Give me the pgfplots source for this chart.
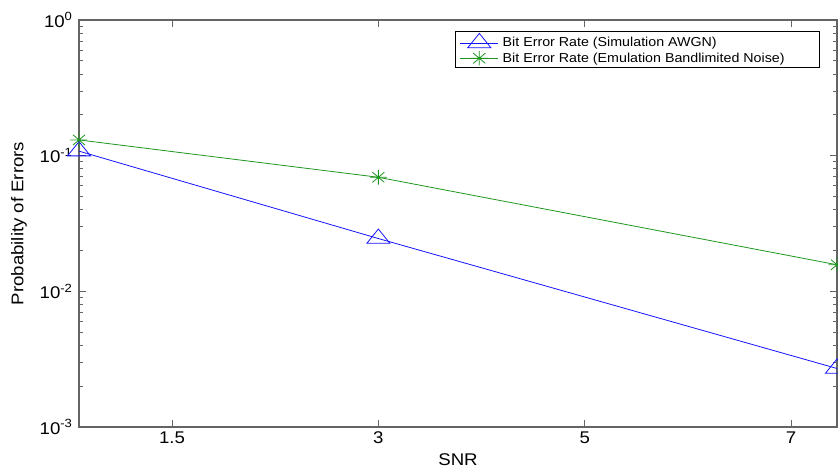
\documentclass[border=0pt]{standalone}
\usepackage{fontspec}
\setmainfont{Liberation Sans}[FakeStretch=1.1]
\usepackage{pgfplots}
\pgfplotsset{compat=1.18}
\definecolor{mblue}{RGB}{20,20,255}
\definecolor{mgreen}{RGB}{30,150,30}
\definecolor{axgray}{RGB}{100,100,100}

% MATLAB-style '*' marker: four strokes through the centre
\pgfdeclareplotmark{mstar}{%
  \pgfpathmoveto{\pgfqpoint{-\pgfplotmarksize}{0pt}}%
  \pgfpathlineto{\pgfqpoint{\pgfplotmarksize}{0pt}}%
  \pgfpathmoveto{\pgfqpoint{0pt}{-\pgfplotmarksize}}%
  \pgfpathlineto{\pgfqpoint{0pt}{\pgfplotmarksize}}%
  \pgfpathmoveto{\pgfqpoint{-0.707\pgfplotmarksize}{-0.707\pgfplotmarksize}}%
  \pgfpathlineto{\pgfqpoint{0.707\pgfplotmarksize}{0.707\pgfplotmarksize}}%
  \pgfpathmoveto{\pgfqpoint{-0.707\pgfplotmarksize}{0.707\pgfplotmarksize}}%
  \pgfpathlineto{\pgfqpoint{0.707\pgfplotmarksize}{-0.707\pgfplotmarksize}}%
  \pgfusepathqstroke}

\begin{document}
\begin{tikzpicture}
\begin{semilogyaxis}[
    scale only axis,
    width=758bp, height=407bp,
    xmin=0.549, xmax=4.223,
    ymin=1e-3, ymax=1,
    xtick={1,2,3,4},
    xticklabels={1.5,3,5,7},
    ytick={1e-3,1e-2,1e-1,1},
    yticklabels={10\textsuperscript{-3},10\textsuperscript{-2},10\textsuperscript{-1},10\textsuperscript{0}},
    tick align=inside,
    major tick length=7bp,
    minor tick length=4bp,
    axis line style={axgray, line width=1.2bp},
    every tick/.style={axgray, line width=0.8bp},
    ticklabel style={font=\fontsize{17}{18}\selectfont},
    xticklabel style={yshift=-1bp},
    yticklabel style={xshift=-3bp},
    xlabel={SNR},
    ylabel={Probability of Errors},
    label style={font=\fontsize{17}{19}\selectfont},
    xlabel style={at={(axis description cs:0.5,0)}, anchor=center, yshift=-33bp},
    ylabel style={at={(axis description cs:-0.0792,0.5)}, anchor=center},
    clip=false,
    legend cell align=left,
    legend style={at={(axis description cs:1,1)}, anchor=north east,
        xshift=-17bp, yshift=-11bp,
        font=\fontsize{13}{14}\selectfont,
        draw=black, line width=0.8bp,
        inner xsep=5bp, inner ysep=2bp, row sep=0.5bp,
        nodes={inner xsep=4bp}},
    legend image code/.code={%
        \draw[mark repeat=2,mark phase=2] plot coordinates {(0bp,0bp)(19bp,0bp)(38bp,0bp)};},
]
\addplot[mblue, line width=0.8bp, mark=triangle,
    mark options={solid, mark size=9.5bp, xscale=1.4}] coordinates {
    (0.549,0.108)
    (2,0.0245)
    (4.223,0.0027)
};
\addlegendentry{Bit Error Rate (Simulation AWGN)}
\addplot[mgreen, line width=0.8bp, mark=mstar,
    mark options={solid, mark size=8.5bp, yscale=0.85}] coordinates {
    (0.549,0.1306)
    (2,0.0693)
    (4.223,0.0157)
};
\addlegendentry{Bit Error Rate (Emulation Bandlimited Noise)\hspace*{26bp}}
\end{semilogyaxis}
\pgfresetboundingbox
\path ([shift={(-79bp,-41bp)}]current axis.south west)
    rectangle ([shift={(1bp,20bp)}]current axis.north east);
\end{tikzpicture}
\end{document}
